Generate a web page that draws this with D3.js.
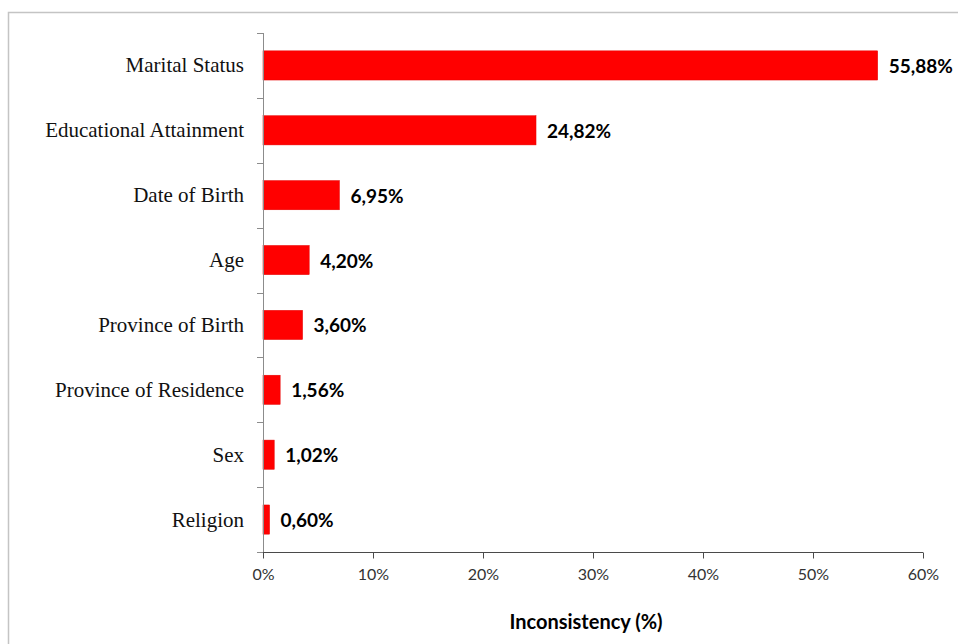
<!DOCTYPE html>
<html>
<head>
<meta charset="utf-8">
<script src="https://cdn.jsdelivr.net/npm/d3@7"></script>
<style>
  body { margin: 0; background: #fff; }
  svg { display: block; }
</style>
</head>
<body>
<script>
  // values
  let categories = ['Marital Status', 'Educational Attainment', 'Date of Birth', 'Age',
    'Province of Birth', 'Province of Residence', 'Sex', 'Religion']
  let values = [55.88, 24.82, 6.95, 4.20, 3.60, 1.56, 1.02, 0.60]
  let xTicks = [0, 10, 20, 30, 40, 50, 60]

  let width = 958, height = 644
  let svg = d3.select('body').append('svg')
    .attr('width', width)
    .attr('height', height)

  // outer frame
  svg.append('rect')
    .attr('x', 8.5).attr('y', 12.5)
    .attr('width', 960).attr('height', 640)
    .attr('fill', 'none')
    .attr('stroke', '#c4c4c4')
    .attr('stroke-width', 1.5)

  let x = d3.scaleLinear().domain([0, 60]).range([263, 923])
  let y = d3.scaleBand().domain(categories).range([33, 552]).paddingInner(0.55).paddingOuter(0.275)

  // bars
  svg.append('g').selectAll('rect')
    .data(values)
    .join('rect')
    .attr('x', x(0))
    .attr('y', (d, i) => y(categories[i]))
    .attr('width', d => x(d) - x(0))
    .attr('height', y.bandwidth())
    .attr('fill', '#ff0000')
    .attr('stroke', '#e60000')
    .attr('stroke-width', 0.5)

  // value labels
  let fmt = d => d.toFixed(2).replace('.', ',') + '%'
  svg.append('g').selectAll('text')
    .data(values)
    .join('text')
    .attr('x', d => x(d) + 11)
    .attr('y', (d, i) => y(categories[i]) + y.bandwidth() / 2)
    .attr('dominant-baseline', 'central')
    .attr('font-family', 'Lato, "Open Sans", sans-serif')
    .attr('font-weight', 'bold')
    .attr('font-size', 19)
    .attr('fill', '#000')
    .text(fmt)

  // y axis line with ticks at band boundaries
  let yAxis = svg.append('g')
  yAxis.append('line')
    .attr('x1', 263.5).attr('x2', 263.5)
    .attr('y1', 33).attr('y2', 552)
    .attr('stroke', '#8c8c8c')
  let bounds = d3.range(categories.length + 1).map(i => 33 + i * y.step())
  yAxis.selectAll('line.tick')
    .data(bounds)
    .join('line')
    .attr('class', 'tick')
    .attr('x1', 257).attr('x2', 263.5)
    .attr('y1', d => Math.round(d) + 0.5).attr('y2', d => Math.round(d) + 0.5)
    .attr('stroke', '#8c8c8c')
  yAxis.selectAll('text')
    .data(categories)
    .join('text')
    .attr('x', 244)
    .attr('y', d => y(d) + y.bandwidth() / 2)
    .attr('text-anchor', 'end')
    .attr('dominant-baseline', 'central')
    .attr('font-family', '"Liberation Serif", serif')
    .attr('font-size', 21)
    .attr('fill', '#111')
    .text(d => d)

  // x axis
  let xAxis = svg.append('g')
    .attr('transform', 'translate(0,552.5)')
    .call(d3.axisBottom(x).tickValues(xTicks).tickFormat(d => d + '%').tickSize(6).tickPadding(10))
  xAxis.select('.domain').attr('stroke', '#4a4a4a').attr('d', 'M263,0H923')
  xAxis.selectAll('.tick line').attr('stroke', '#4a4a4a')
  xAxis.selectAll('.tick text')
    .attr('font-family', 'Lato, "Open Sans", sans-serif')
    .attr('font-size', 16)
    .attr('fill', '#333')

  svg.append('text')
    .attr('x', 586)
    .attr('y', 621)
    .attr('text-anchor', 'middle')
    .attr('dominant-baseline', 'central')
    .attr('font-family', 'Lato, "Open Sans", sans-serif')
    .attr('font-weight', 'bold')
    .attr('font-size', 20)
    .attr('fill', '#000')
    .text('Inconsistency (%)')
</script>
</body>
</html>
